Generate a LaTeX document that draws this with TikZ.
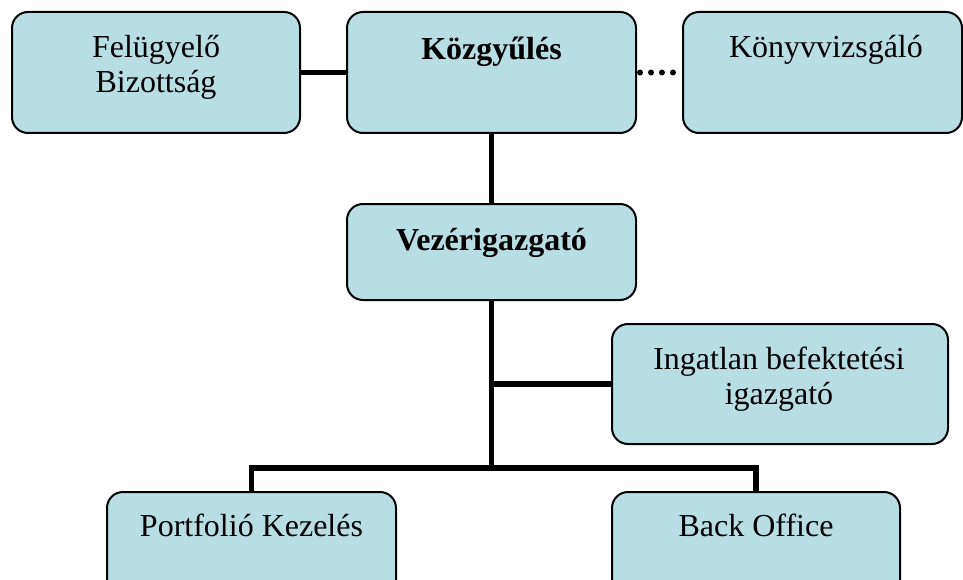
\documentclass[tikz,border=0pt]{standalone}
\usepackage{fontspec}
\setmainfont{Liberation Serif}
\usepackage{tikz}
\definecolor{boxblue}{RGB}{183,223,227}

\begin{document}
\begin{tikzpicture}[x=1pt,y=-1pt,
  box/.style={draw,line width=2pt,fill=boxblue,rounded corners=16pt,inner sep=0pt},
  txt/.style={anchor=base,align=center,inner sep=0pt,font=\fontsize{32}{35}\selectfont},
  conn/.style={line width=5.5pt}]

\useasboundingbox (0,0) rectangle (963,580);
\clip (0,0) rectangle (963,580);

 \node[box,minimum width=288pt,minimum height=121pt] (fb) at (156,72.5) {};
 \node[box,minimum width=289pt,minimum height=121pt] (kgy) at (491.5,72.5) {};
 \node[box,minimum width=279pt,minimum height=121pt] (kv) at (822.5,72.5) {};
 \node[box,minimum width=289pt,minimum height=96pt] (vig) at (491.5,252) {};
 \node[box,minimum width=336pt,minimum height=120pt] (ing) at (780,384) {};
 \node[box,minimum width=289pt,minimum height=120pt] (pk) at (251.5,552) {};
 \node[box,minimum width=288pt,minimum height=120pt] (bo) at (756,552) {};

 % two-line texts sit on their last baseline
 \node[txt] (fbtext) at (156,93) {Felügyelő\\Bizottság};
 \node[txt] (kgytext) at (491.5,60) {\bfseries Közgyűlés};
 \node[txt] (kvtext) at (826,58) {Könyvvizsgáló};
 \node[txt] (vigtext) at (491.5,250) {\bfseries Vezérigazgató};
 \node[txt] (ingtext) at (779,404) {Ingatlan befektetési\\igazgató};
 \node[txt] (pktext) at (251.5,536) {Portfolió Kezelés};
 \node[txt] (botext) at (756,536) {Back Office};

\coordinate (bus) at (491.5,468);

\draw[conn] (fb.east) -- (kgy.west);
\draw[line width=6pt,line cap=round,dash pattern=on 0pt off 11pt,dash phase=8pt]
  (kgy.east) -- ([xshift=-6pt]kv.west);
\draw[conn] (kgy.south) -- (vig.north);
\draw[conn] (vig.south) -- (bus);
\draw[conn] (vig.south |- ing.west) -- (ing.west);
\draw[conn] (bus) -| (pk.north);
\draw[conn] (bus) -| (bo.north);
\end{tikzpicture}
\end{document}
